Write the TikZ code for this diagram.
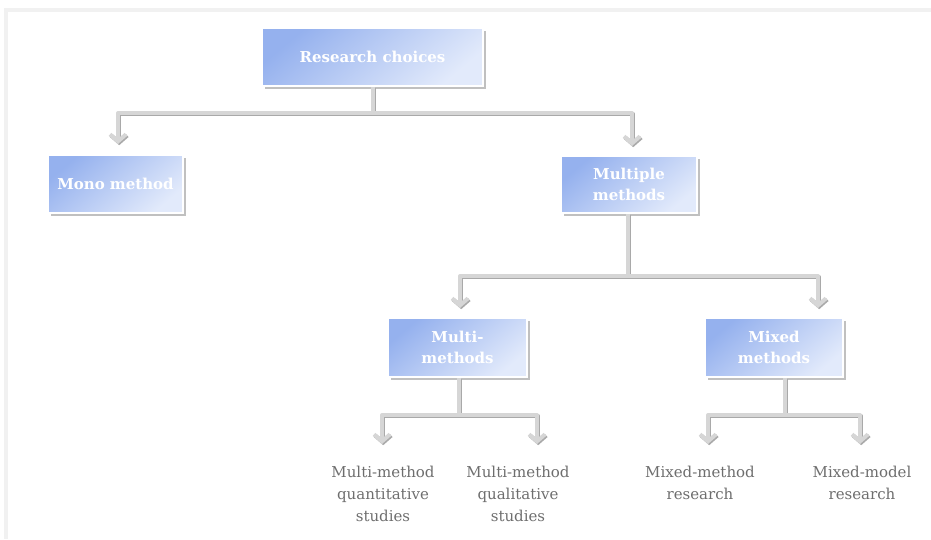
\documentclass[tikz,border=0pt]{standalone}
\usepackage{fontspec}
\setmainfont{DejaVu Serif}
\usetikzlibrary{arrows.meta,shadows}
\definecolor{boxA}{HTML}{95B1EE}
\definecolor{boxB}{HTML}{E2EAFB}
\definecolor{wire}{HTML}{D6D6D6}
\definecolor{wireshade}{HTML}{A9A9A9}
\definecolor{leaftext}{HTML}{6E6E6E}
\definecolor{framec}{HTML}{F1F1F1}
\tikzset{
  choicebox/.style={rectangle, draw=white, line width=2.2pt,
    top color=boxA, bottom color=boxB, shading angle=40,
    drop shadow={shadow xshift=3pt, shadow yshift=-3pt, fill=black!45, opacity=.55},
    text=white, font=\fontsize{15}{21}\selectfont\bfseries, align=center,
    inner sep=0pt},
  leaf/.style={text=leaftext, font=\fontsize{15}{22}\selectfont, align=center, inner sep=0pt},
  wirebase/.style={line width=4pt, line join=round},
  wiring/.style={wirebase, draw=wire,
    preaction={draw=wireshade, wirebase, transform canvas={xshift=1.2pt, yshift=-1.2pt}}},
  barb/.tip={Straight Barb[length=7pt,width=16pt]},
  tips/.style={wiring, {barb}-{barb}},
}
\begin{document}
\begin{tikzpicture}[x=1pt,y=-1pt]
\useasboundingbox (0,0) rectangle (931,539);
% faint page frame
\draw[framec, line width=4pt] (6,539) -- (6,10) -- (931,10);

% boxes
\node[choicebox, minimum width=221pt, minimum height=58pt] (rc)   at (372.5,57)    {Research choices};
\node[choicebox, minimum width=135pt, minimum height=58pt] (mono) at (115.5,184)   {Mono method};
\node[choicebox, minimum width=136pt, minimum height=57pt] (mult) at (629,184.5)   {Multiple\\methods};
\node[choicebox, minimum width=139pt, minimum height=59pt] (mm)   at (457.5,347.5) {Multi-\\methods};
\node[choicebox, minimum width=138pt, minimum height=59pt] (mix)  at (774,347.5)   {Mixed\\methods};

% leaves
\node[leaf] (q1) at (383,494) {Multi-method\\quantitative\\studies};
\node[leaf] (q2) at (518,494) {Multi-method\\qualitative\\studies};
\node[leaf] (x1) at (700,483) {Mixed-method\\research};
\node[leaf] (x2) at (862,483) {Mixed-model\\research};

% junctions and arrow ends
\coordinate (j1) at (373,113);
\coordinate (j2) at (628,276);
\coordinate (j3) at (459,415);
\coordinate (j4) at (785,415);
\coordinate (e1) at (118,144);
\coordinate (e2) at (632,146);
\coordinate (e3) at (460,308);
\coordinate (e4) at (818,308);
\coordinate (e5) at (382,444);
\coordinate (e6) at (537,444);
\coordinate (e7) at (708,444);
\coordinate (e8) at (860,444);

% stems
\draw[wiring] (rc.south) -- (rc.south |- j1);
\draw[wiring] (mult.south -| j2) -- (j2);
\draw[wiring] (mm.south -| j3) -- (j3);
\draw[wiring] (mix.south -| j4) -- (j4);

% branches
\draw[tips] (e1) |- (j1) -| (e2);
\draw[tips] (e3) |- (j2) -| (e4);
\draw[tips] (e5) |- (j3) -| (e6);
\draw[tips] (e7) |- (j4) -| (e8);
\end{tikzpicture}
\end{document}
